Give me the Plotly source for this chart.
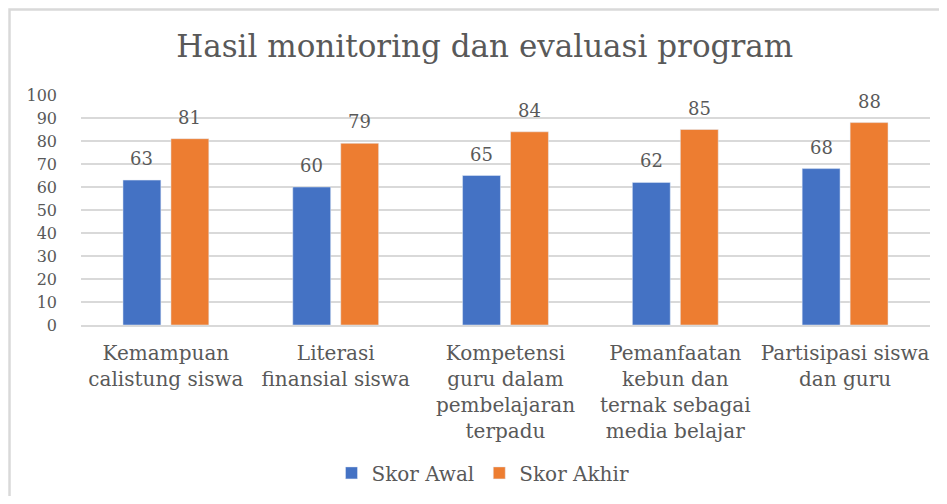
import plotly.graph_objects as go

categories = [
    "Kemampuan<br>calistung siswa",
    "Literasi<br>finansial siswa",
    "Kompetensi<br>guru dalam<br>pembelajaran<br>terpadu",
    "Pemanfaatan<br>kebun dan<br>ternak sebagai<br>media belajar",
    "Partisipasi siswa<br>dan guru",
]
skor_awal = [63, 60, 65, 62, 68]
skor_akhir = [81, 79, 84, 85, 88]
y_ticks = list(range(0, 101, 10))

BLUE = "#4472C4"
ORANGE = "#ED7D31"
TXT = "#595959"
FONT = "DejaVu Serif"

fig = go.Figure()
fig.add_trace(go.Bar(name="Skor Awal", x=categories, y=skor_awal, marker_color=BLUE))
fig.add_trace(go.Bar(name="Skor Akhir", x=categories, y=skor_akhir, marker_color=ORANGE))

annotations = []
for vals, shift in ((skor_awal, -24), (skor_akhir, 24)):
    for c, v in zip(categories, vals):
        annotations.append(dict(x=c, y=v, text=str(v), showarrow=False, xshift=shift,
                                yanchor="bottom", yshift=9,
                                font=dict(family=FONT, size=18, color=TXT)))

# page body adds an 8px offset; figure sized so nothing scrolls
fig.update_layout(
    width=931, height=488,
    paper_bgcolor="white", plot_bgcolor="white",
    margin=dict(l=73, r=9, t=87, b=171, autoexpand=False),
    title=dict(text="Hasil monitoring dan evaluasi program", x=0.512, xanchor="center",
               y=0.922, yanchor="middle",
               font=dict(family=FONT, size=31, color=TXT)),
    barmode="group", bargap=0.435, bargroupgap=0.21,
    legend=dict(orientation="h", x=0.4735, xanchor="center", y=-0.643, yanchor="middle",
                font=dict(family=FONT, size=20, color=TXT)),
    annotations=annotations,
    showlegend=True,
)
fig.update_yaxes(range=[0, 100], tickvals=y_ticks, showgrid=True, gridcolor="#D9D9D9",
                 gridwidth=1.5, zeroline=False, showline=False, automargin=False,
                 tickfont=dict(family=FONT, size=16, color=TXT), ticklabelstandoff=23)
fig.update_xaxes(showline=True, linecolor="#D9D9D9", linewidth=1.5, automargin=False,
                 tickfont=dict(family=FONT, size=20, color=TXT), ticklabelstandoff=9)
fig.add_shape(type="rect", xref="paper", yref="paper", x0=-0.0842, x1=1.1, y0=-1.0, y1=1.3717,
              line=dict(color="#D9D9D9", width=2.5), fillcolor="rgba(0,0,0,0)", layer="below")

fig.write_html("out.html")
